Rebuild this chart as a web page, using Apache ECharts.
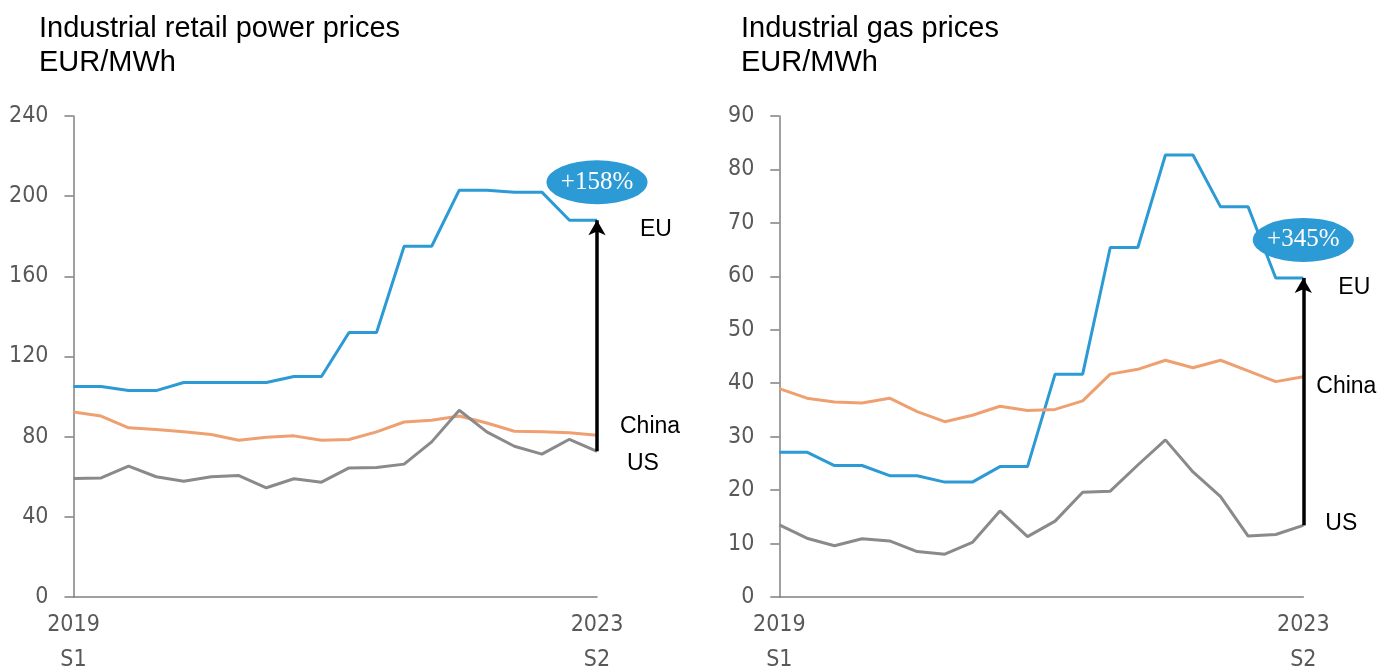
<!DOCTYPE html>
<html>
<head>
<meta charset="utf-8">
<script src="https://cdn.jsdelivr.net/npm/echarts@6/dist/echarts.min.js"></script>
<style>
html,body{margin:0;padding:0;background:#fff;}
#chart{width:1392px;height:666px;}
</style>
</head>
<body>
<div id="chart"></div>
<script>
// ---- data ----
const periods = ['2019Q1','2019Q2','2019Q3','2019Q4','2020Q1','2020Q2','2020Q3','2020Q4',
  '2021Q1','2021Q2','2021Q3','2021Q4','2022Q1','2022Q2','2022Q3','2022Q4',
  '2023Q1','2023Q2','2023Q3','2023Q4'];
const xTickLabels = ['2019\nS1','','','','','','','','','','','','','','','','','','','2023\nS2'];

const powerTitle = 'Industrial retail power prices\nEUR/MWh';
const powerEU    = [105,105,103,103,107,107,107,107,110,110,132,132,175,175,203,203,202,202,188,188];
const powerChina = [92.3,90.3,84.4,83.6,82.4,81.1,78.2,79.7,80.4,78.2,78.6,82.4,87.3,88.2,90.3,86.8,82.7,82.4,81.9,80.7];
const powerUS    = [59.1,59.4,65.3,60,57.8,60,60.6,54.5,59,57.3,64.4,64.6,66.3,77.4,93.2,82.4,75.2,71.3,78.7,72.7];
const powerGapLabel = '+158%';

const gasTitle = 'Industrial gas prices\nEUR/MWh';
const gasEU    = [27.1,27.1,24.6,24.6,22.7,22.7,21.5,21.5,24.4,24.4,41.7,41.7,65.4,65.4,82.7,82.7,73.0,73.0,59.7,59.7];
const gasChina = [39.0,37.2,36.5,36.3,37.2,34.7,32.8,34.0,35.7,34.9,35.1,36.7,41.7,42.6,44.3,42.9,44.3,42.3,40.3,41.2];
const gasUS    = [13.5,11.0,9.6,10.9,10.5,8.5,8.0,10.2,16.1,11.3,14.2,19.6,19.8,24.7,29.4,23.4,18.8,11.4,11.7,13.4];
const gasGapLabel = '+345%';

const seriesNames = ['EU','China','US'];
const powerYTicks = {min:0, max:240, interval:40};
const gasYTicks   = {min:0, max:90, interval:10};

// ---- styles ----
const C_EU = '#2C9AD5', C_CN = '#EFA071', C_US = '#8A8A8A';
const AXIS_C = '#808080', LABEL_C = '#595959';
const AX_FONT = '"DejaVu Sans Condensed","Liberation Sans Narrow",sans-serif';
const TXT_FONT = '"Liberation Sans",Arial,sans-serif';
const ELLIPSE = 'path://M0,50 A50,50 0 1,1 100,50 A50,50 0 1,1 0,50 Z';
const last = periods.length - 1;

function xAxis(gi){
  return {
    type:'category', gridIndex:gi, data:periods, boundaryGap:false,
    axisLine:{show:true, lineStyle:{color:AXIS_C, width:1.5}},
    axisTick:{show:false},
    splitLine:{show:false},
    axisLabel:{
      interval:0, margin:11,
      formatter:(v,i)=>xTickLabels[i],
      color:LABEL_C, fontFamily:AX_FONT, fontSize:23, lineHeight:35
    }
  };
}
function yAxis(gi, t){
  return {
    type:'value', gridIndex:gi, min:t.min, max:t.max, interval:t.interval,
    axisLine:{show:true, lineStyle:{color:AXIS_C, width:1.5}},
    axisTick:{show:true, length:9, lineStyle:{color:AXIS_C, width:1.5}},
    splitLine:{show:false},
    axisLabel:{margin:25, color:LABEL_C, fontFamily:AX_FONT, fontSize:23}
  };
}
function line(gi, name, data, color, lblOffset, extra){
  return Object.assign({
    type:'line', name, data, xAxisIndex:gi, yAxisIndex:gi,
    symbol:'none', showSymbol:false, z:3,
    lineStyle:{color, width:3},
    itemStyle:{color},
    endLabel:{show:true, formatter:name, distance:0, offset:lblOffset,
      color:'#000', fontFamily:TXT_FONT, fontSize:23, align:'left', verticalAlign:'middle'},
    animation:false
  }, extra||{});
}
function gapSeries(gi, eu, us, lbl, euOff, cnOff, usOff, cn){
  return [
    line(gi, seriesNames[0], eu, C_EU, euOff, {
      markPoint:{
        silent:true, z:10,
        data:[{coord:[periods[last], eu[last]], symbol:ELLIPSE, symbolSize:[101,44], symbolOffset:[0,-38],
          itemStyle:{color:C_EU},
          label:{show:true, position:'inside', formatter:lbl, color:'#fff',
            fontFamily:'"Liberation Serif","Times New Roman",serif', fontSize:25}}]
      }
    }),
    line(gi, seriesNames[1], cn, C_CN, cnOff),
    line(gi, seriesNames[2], us, C_US, usOff, {
      markLine:{
        silent:true, symbol:['none','arrow'], symbolSize:[13,15],
        lineStyle:{color:'#000', width:3.5, type:'solid'},
        label:{show:false},
        data:[[{coord:[periods[last], us[last]]},{coord:[periods[last], eu[last]]}]]
      }
    })
  ];
}

const chart = echarts.init(document.getElementById('chart'), null, {renderer:'canvas'});
chart.setOption({
  animation:false,
  backgroundColor:'#fff',
  title:[
    {text:powerTitle, left:39, top:12, padding:0, textStyle:{fontFamily:TXT_FONT, fontSize:29, fontWeight:'normal', color:'#000', lineHeight:34}},
    {text:gasTitle, left:741, top:12, padding:0, textStyle:{fontFamily:TXT_FONT, fontSize:29, fontWeight:'normal', color:'#000', lineHeight:34}}
  ],
  grid:[
    {left:73.5, top:116, width:523.5, height:481, containLabel:false, outerBoundsMode:'none'},
    {left:779.3, top:116, width:524, height:481, containLabel:false, outerBoundsMode:'none'}
  ],
  xAxis:[xAxis(0), xAxis(1)],
  yAxis:[yAxis(0, powerYTicks), yAxis(1, gasYTicks)],
  series:[].concat(
    gapSeries(0, powerEU, powerUS, powerGapLabel, [43,9], [23,-9], [30,12], powerChina),
    gapSeries(1, gasEU, gasUS, gasGapLabel, [35,10], [13,10], [22,-2], gasChina)
  )
});
</script>
</body>
</html>
